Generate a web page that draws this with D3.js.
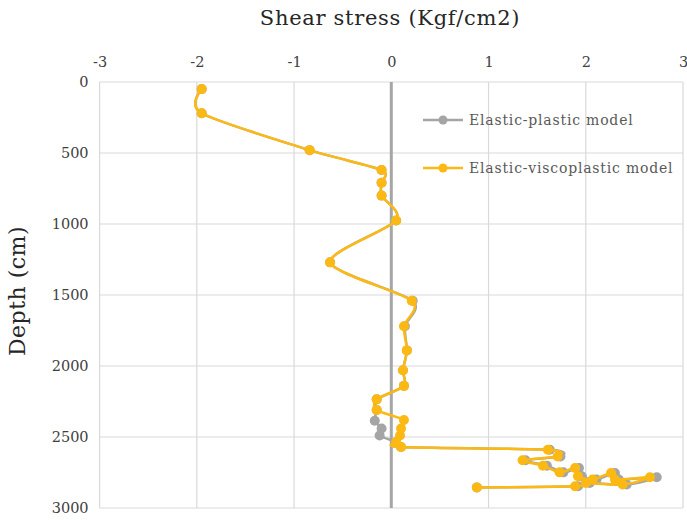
<!DOCTYPE html>
<html>
<head>
<meta charset="utf-8">
<script src="https://cdn.jsdelivr.net/npm/d3@7"></script>
<style>
  html, body { margin: 0; padding: 0; background: #fff; }
  svg { display: block; }
</style>
</head>
<body>
<svg id="chart" width="687" height="520"></svg>
<script>
// Depth profile of shear stress for two soil models
const stressTicks = [-3, -2, -1, 0, 1, 2, 3];
const depthTicks = [0, 500, 1000, 1500, 2000, 2500, 3000];

const seriesNames = ["Elastic-plastic model", "Elastic-viscoplastic model"];
const seriesColors = ["#A5A5A5", "#FDB913"];

// Elastic-viscoplastic model
const viscoDepth = [50, 220, 480, 620, 710, 800, 975, 1270, 1540, 1720, 1890, 2030, 2140, 2235, 2310,
  2380, 2440, 2490, 2535, 2570, 2590, 2637, 2664, 2702, 2749, 2718, 2777, 2800, 2753, 2800,
  2784, 2835, 2824, 2847, 2855];
const viscoStress = [-1.95, -1.95, -0.84, -0.10, -0.10, -0.10, 0.05, -0.63, 0.21, 0.13, 0.16, 0.12, 0.13, -0.15, -0.15,
  0.13, 0.10, 0.09, 0.05, 0.10, 1.61, 1.71, 1.35, 1.56, 1.73, 1.89, 1.92, 2.07, 2.26, 2.30,
  2.66, 2.38, 2.00, 1.89, 0.88];

// Elastic-plastic model
const plasticDepth = [50, 220, 480, 620, 710, 800, 975, 1270, 1540, 1720, 1890, 2030, 2140, 2235, 2310,
  2385, 2440, 2490, 2535, 2570, 2590, 2637, 2664, 2702, 2749, 2718, 2777, 2800, 2753, 2800,
  2784, 2835, 2824, 2847, 2855];
const plasticStress = [-1.95, -1.95, -0.84, -0.10, -0.10, -0.10, 0.05, -0.63, 0.22, 0.14, 0.16, 0.12, 0.13, -0.15, -0.15,
  -0.17, -0.10, -0.12, 0.05, 0.10, 1.63, 1.74, 1.38, 1.60, 1.77, 1.93, 1.96, 2.11, 2.30, 2.34,
  2.73, 2.42, 2.04, 1.92, 0.88];

const svg = d3.select("#chart");
const serif = "'DejaVu Serif', 'Liberation Serif', serif";

const x = d3.scaleLinear().domain([-3, 3]).range([99.6, 683]);
const y = d3.scaleLinear().domain([0, 3000]).range([82, 508]);

// Gridlines
const grid = svg.append("g");
grid.selectAll("line.h").data(depthTicks).join("line")
  .attr("x1", x(-3)).attr("x2", x(3))
  .attr("y1", d => y(d)).attr("y2", d => y(d))
  .attr("stroke", "#D9D9D9").attr("stroke-width", 1.2);
grid.selectAll("line.v").data(stressTicks.filter(d => d !== 0)).join("line")
  .attr("x1", d => x(d)).attr("x2", d => x(d))
  .attr("y1", y(0)).attr("y2", y(3000))
  .attr("stroke", "#D9D9D9").attr("stroke-width", 1.2);

// Zero line
svg.append("line")
  .attr("x1", x(0)).attr("x2", x(0))
  .attr("y1", y(0)).attr("y2", y(3000))
  .attr("stroke", "#A6A6A6").attr("stroke-width", 3);

// Axes (plain hyphen for negative labels)
const fmt = d => String(d);
const xAxis = svg.append("g")
  .attr("transform", `translate(0,${y(0) - 19})`)
  .call(d3.axisTop(x).tickValues(stressTicks).tickSize(0).tickFormat(fmt));
const yAxis = svg.append("g")
  .attr("transform", `translate(${x(-3) - 8},0)`)
  .call(d3.axisLeft(y).tickValues(depthTicks).tickSize(0).tickFormat(fmt));
[xAxis, yAxis].forEach(g => {
  g.select(".domain").remove();
  g.selectAll("text")
    .attr("font-family", serif).attr("font-size", 14.5).attr("fill", "#404040");
});
xAxis.selectAll("text").attr("dy", "0.5em");

// Axis titles
svg.append("text")
  .attr("x", 390).attr("y", 25)
  .attr("text-anchor", "middle")
  .attr("font-family", serif).attr("font-size", 21).attr("letter-spacing", 0.7)
  .attr("fill", "#262626")
  .text("Shear stress (Kgf/cm2)");
svg.append("text")
  .attr("transform", "translate(25,291) rotate(-90)")
  .attr("text-anchor", "middle")
  .attr("font-family", serif).attr("font-size", 22).attr("letter-spacing", 0.5)
  .attr("fill", "#262626")
  .text("Depth (cm)");

// Series
const series = [
  { name: seriesNames[0], color: seriesColors[0], pts: plasticDepth.map((d, i) => [plasticStress[i], d]) },
  { name: seriesNames[1], color: seriesColors[1], pts: viscoDepth.map((d, i) => [viscoStress[i], d]) }
];
const line = d3.line()
  .x(d => x(d[0])).y(d => y(d[1]))
  .curve(d3.curveCardinal.tension(0.2));

series.forEach(s => {
  const g = svg.append("g");
  g.append("path").attr("d", line(s.pts))
    .attr("fill", "none").attr("stroke", s.color).attr("stroke-width", 2.5)
    .attr("stroke-linejoin", "round");
  g.selectAll("circle").data(s.pts).join("circle")
    .attr("cx", d => x(d[0])).attr("cy", d => y(d[1])).attr("r", 5)
    .attr("fill", s.color);
});

// Legend
const legend = svg.append("g");
series.forEach((s, i) => {
  const ly = 120 + i * 48;
  legend.append("line")
    .attr("x1", 423).attr("x2", 463).attr("y1", ly).attr("y2", ly)
    .attr("stroke", s.color).attr("stroke-width", 2.5);
  legend.append("circle").attr("cx", 443).attr("cy", ly).attr("r", 4.5).attr("fill", s.color);
  legend.append("text")
    .attr("x", 469).attr("y", ly).attr("dy", "0.35em")
    .attr("font-family", serif).attr("font-size", 14).attr("letter-spacing", 0.8)
    .attr("fill", "#595959")
    .text(s.name);
});
</script>
</body>
</html>
